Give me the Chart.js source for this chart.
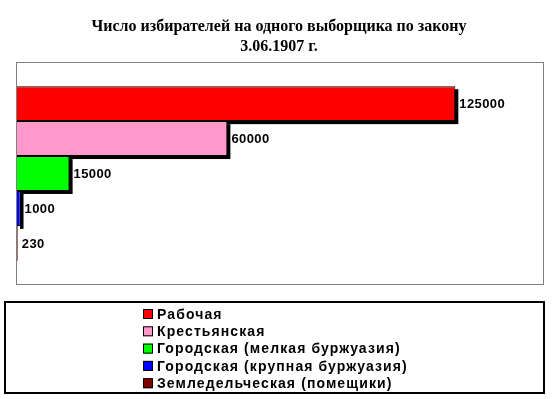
<!DOCTYPE html>
<html lang="ru">
<head>
  <meta charset="UTF-8">
  <title>Число избирателей на одного выборщика</title>
  <script src="https://cdn.jsdelivr.net/npm/chart.js"></script>
  <style>
    html, body { margin: 0; padding: 0; background: #fff; overflow: hidden; }
    canvas { display: block; }
  </style>
</head>
<body>
  <canvas id="voters" width="559" height="399"></canvas>

  <script>
    const titleLines = ["Число избирателей на одного выборщика по закону", "3.06.1907 г."];
    const curias = [
      "Рабочая",
      "Крестьянская",
      "Городская (мелкая буржуазия)",
      "Городская (крупная буржуазия)",
      "Земледельческая (помещики)"
    ];
    const votersPerElector = [125000, 60000, 15000, 1000, 230];
    const curiaColors = ["#ff0000", "#ff99cc", "#00ff00", "#0000ff", "#800000"];

    // рамка области, тени столбиков, подписи, заголовок и легенда
    const frame = {
      id: 'frame',
      beforeDatasetsDraw(chart) {
        const a = chart.chartArea, ctx = chart.ctx;
        ctx.save();
        ctx.strokeStyle = '#808080';
        ctx.lineWidth = 1;
        ctx.strokeRect(a.left - 0.5, a.top - 0.5, a.right - a.left + 1, a.bottom - a.top + 1);
        // чёрная тень со сдвигом 3px
        ctx.fillStyle = '#000';
        chart.data.datasets.forEach((ds, i) => {
          const bar = chart.getDatasetMeta(i).data[0];
          const left = Math.min(bar.base, bar.x);
          const w = Math.abs(bar.x - bar.base);
          if (w < 1) return;
          ctx.fillRect(left + 3, bar.y - bar.height / 2 + 3, w, bar.height);
        });
        ctx.restore();
      },
      afterDatasetsDraw(chart) {
        const ctx = chart.ctx;
        ctx.save();
        ctx.font = 'bold 13px "Liberation Sans", Arial, sans-serif';
        ctx.letterSpacing = '0.4px';
        ctx.fillStyle = '#000';
        ctx.textBaseline = 'middle';
        chart.data.datasets.forEach((ds, i) => {
          const bar = chart.getDatasetMeta(i).data[0];
          ctx.fillText(String(ds.data[0]), bar.x + 4, bar.y + 1);
        });
        ctx.restore();
      },
      afterDraw(chart) {
        const ctx = chart.ctx;
        ctx.save();
        // заголовок
        ctx.fillStyle = '#000';
        ctx.textAlign = 'center';
        ctx.textBaseline = 'middle';
        ctx.font = 'bold 16px "Liberation Serif", "Times New Roman", serif';
        ctx.fillText(titleLines[0], 279, 27);
        ctx.fillText(titleLines[1], 279, 47);
        // легенда
        ctx.lineWidth = 2;
        ctx.strokeStyle = '#000';
        ctx.strokeRect(5, 302, 539, 91);
        ctx.textAlign = 'left';
        ctx.font = 'bold 14px "Liberation Sans", Arial, sans-serif';
        ctx.letterSpacing = '1.1px';
        chart.data.datasets.forEach((ds, i) => {
          const y = 314 + i * 17.3;
          ctx.fillStyle = ds.backgroundColor;
          ctx.fillRect(143, y - 5, 10, 10);
          ctx.lineWidth = 1;
          ctx.strokeRect(143.5, y - 4.5, 9, 9);
          ctx.fillStyle = '#000';
          ctx.fillText(ds.label, 157, y + 1);
        });
        ctx.restore();
      }
    };

    new Chart(document.getElementById('voters'), {
      type: 'bar',
      data: {
        labels: [''],
        datasets: curias.map((name, i) => ({
          label: name,
          data: [votersPerElector[i]],
          backgroundColor: curiaColors[i],
          borderColor: '#000',
          borderWidth: 1,
          categoryPercentage: 0.79,
          barPercentage: 1
        }))
      },
      options: {
        indexAxis: 'y',
        responsive: false,
        animation: false,
        layout: { padding: { left: 17, right: 16, top: 63, bottom: 115 } },
        scales: {
          x: { display: false, min: 0, max: 150000 },
          y: { display: false }
        },
        plugins: {
          legend: { display: false },
          tooltip: { enabled: false }
        }
      },
      plugins: [frame]
    });
  </script>
</body>
</html>
